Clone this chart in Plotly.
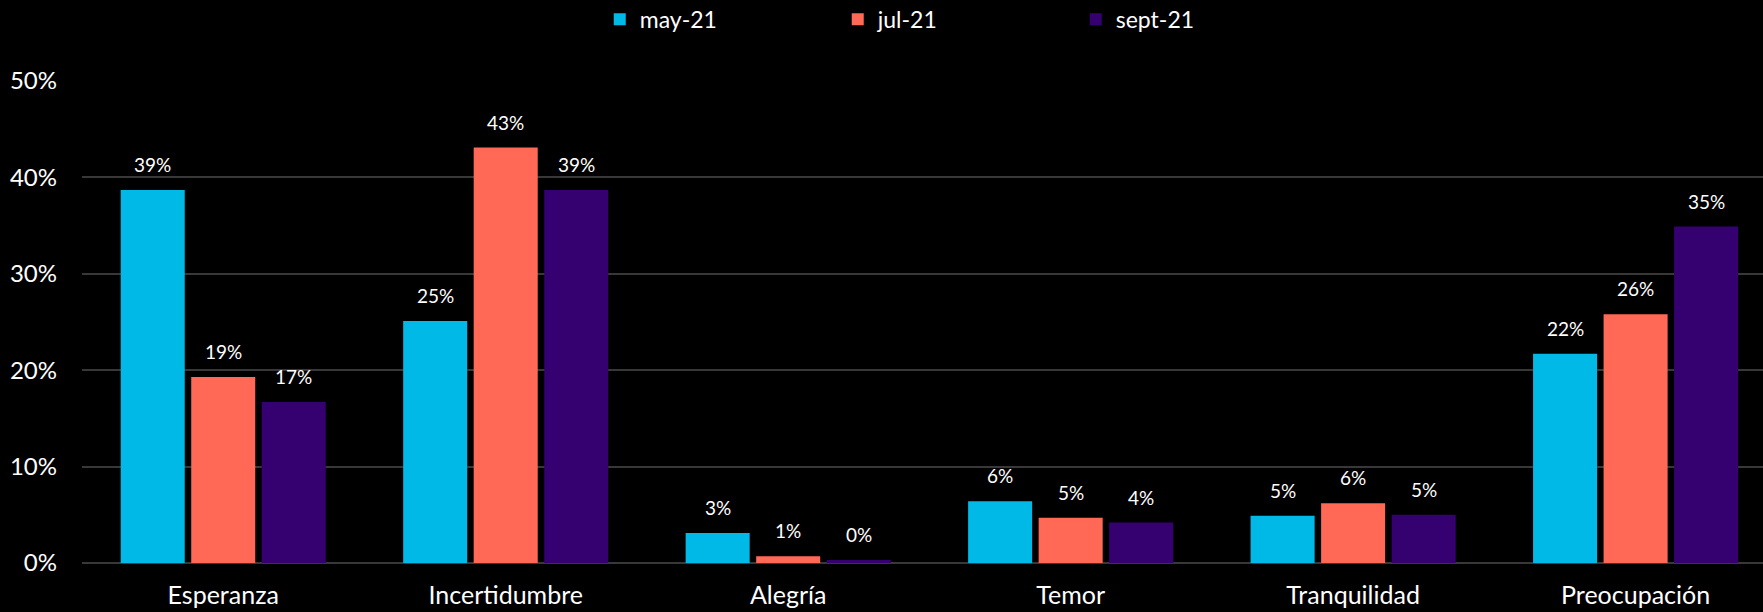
import plotly.graph_objects as go

categories = ["Esperanza", "Incertidumbre", "Alegría", "Temor", "Tranquilidad", "Preocupación"]
series_names = ["may-21", "jul-21", "sept-21"]
may_21 = [0.387, 0.251, 0.031, 0.064, 0.049, 0.217]
jul_21 = [0.193, 0.431, 0.007, 0.047, 0.062, 0.258]
sept_21 = [0.167, 0.387, 0.003, 0.042, 0.050, 0.349]
label_may = ["39%", "25%", "3%", "6%", "5%", "22%"]
label_jul = ["19%", "43%", "1%", "5%", "6%", "26%"]
label_sept = ["17%", "39%", "0%", "4%", "5%", "35%"]
y_ticks = [0, 0.1, 0.2, 0.3, 0.4, 0.5]
y_tick_labels = ["0%", "10%", "20%", "30%", "40%", "50%"]

colors = ["#00B9E7", "#FF6955", "#350070"]
FONT = "Lato"

all_values = [may_21, jul_21, sept_21]
all_labels = [label_may, label_jul, label_sept]

fig = go.Figure()
for name, vals, col in zip(series_names, all_values, colors):
    fig.add_trace(go.Bar(
        name=name, x=categories, y=vals, marker=dict(color=col, line=dict(width=0)),
        hoverinfo="skip",
    ))

BARGAP = 0.251
slot = (1 - BARGAP) / 3.0
annotations = []
for k, (vals, labs) in enumerate(zip(all_values, all_labels)):
    for i, (v, t) in enumerate(zip(vals, labs)):
        annotations.append(dict(
            x=i + (k - 1) * slot, y=v, xref="x", yref="y", text=t,
            showarrow=False, yanchor="bottom", yshift=12,
            font=dict(family=FONT, size=19, color="#FFFFFF"),
        ))

fig.update_layout(
    width=1763, height=612,
    paper_bgcolor="#000000", plot_bgcolor="#000000",
    margin=dict(l=82, r=0, t=81, b=49, pad=0, autoexpand=False),
    barmode="group", bargap=BARGAP, bargroupgap=0.092,
    font=dict(family=FONT, color="#FFFFFF", size=20),
    showlegend=True,
    legend=dict(
        orientation="h", x=0.308, xanchor="left", y=1.128, yanchor="middle",
        font=dict(family=FONT, size=23, color="#FFFFFF"),
        entrywidth=193, entrywidthmode="pixels",
        bgcolor="rgba(0,0,0,0)", itemclick=False,
    ),
    annotations=annotations,
    xaxis=dict(
        range=[-0.5, 5.451], showgrid=False, zeroline=False, automargin=False,
        showline=False, tickfont=dict(family=FONT, size=25, color="#FFFFFF"),
        ticklabelstandoff=15, fixedrange=True,
    ),
    yaxis=dict(
        range=[0, 0.5], tickvals=y_ticks, ticktext=y_tick_labels, automargin=False,
        showgrid=True, gridcolor="#383838", gridwidth=1.5,
        zeroline=True, zerolinecolor="#383838", zerolinewidth=2,
        showline=False, tickfont=dict(family=FONT, size=24, color="#FFFFFF"),
        ticklabelstandoff=24, fixedrange=True,
    ),
)

fig.write_html(
    "out.html",
    config={"displayModeBar": False},
    post_script="document.body.style.margin='0';document.body.style.background='#000';",
)
